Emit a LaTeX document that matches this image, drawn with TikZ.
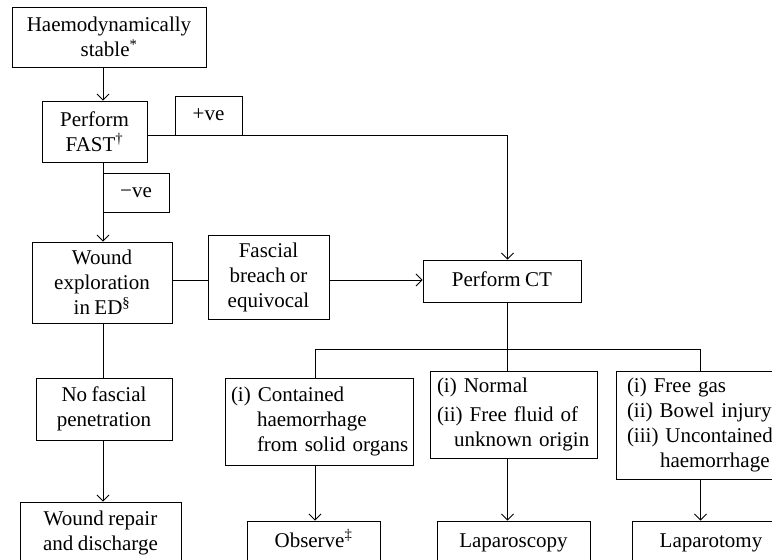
\documentclass[tikz,border=0pt]{standalone}
\usepackage{fontspec}
\setmainfont{Liberation Serif}[WordSpace=0.85]
\usetikzlibrary{arrows.meta}
\begin{document}
\begin{tikzpicture}[x=1pt,y=-1pt,
  box/.style={draw, line width=0.9pt, inner sep=0pt, align=center,
    font=\fontsize{21}{25}\selectfont},
  lbox/.style={box, align=left},
  one/.style={text height=15pt, text depth=5pt},
  conn/.style={line width=0.9pt},
  arr/.style={conn, -{Straight Barb[length=6pt,width=12pt,line width=0.9pt]}}]
\clip (0,0) rectangle (772,560);
\fill[white] (0,0) rectangle (772,560);
% columns / rows
\coordinate (cA) at (103,0);
\coordinate (cB) at (507.5,0);
\coordinate (cC) at (315,0);
\coordinate (cE) at (700.5,0);
\coordinate (yPos) at (0,135);
\coordinate (yF) at (0,280);
\coordinate (yS) at (0,349);
% nodes
\node[box, minimum width=194pt, minimum height=60pt] (hs) at (109,37) {Haemodynamically\\stable\textsuperscript{*}};
\node[box, minimum width=105pt, minimum height=61pt] (fast) at (94.5,131.5) {Perform\\FAST\textsuperscript{†}};
\node[box, one, minimum width=67pt, minimum height=39pt] (pos) at (208.5,115.5) {+ve};
\node[box, one, minimum width=66pt, minimum height=39pt] (neg) at (136,192.5) {−ve};
\node[box, minimum width=140pt, minimum height=81pt] (wound) at (102,282.5) {Wound\\exploration\\in ED\textsuperscript{§}};
\node[box, minimum width=121pt, minimum height=84pt] (fasc) at (268.5,277) {Fascial\\breach or\\equivocal};
\node[box, one, minimum width=158pt, minimum height=42pt] (ct) at (502,281) {Perform CT};
\node[box, minimum width=136pt, minimum height=62pt] (nofasc) at (104,409) {No fascial\\penetration};
\node[box, minimum width=161pt, minimum height=62pt] (repair) at (100.5,533) {Wound repair\\and discharge};
\node[lbox, text width=176pt, inner xsep=6pt, minimum height=87pt] (contained) at (319,421.5)
  {\mbox{(i) Contained}\\\mbox{\hspace*{26pt}haemorrhage}\\\mbox{\hspace*{26pt}from solid organs}};
\node[lbox, text width=153pt, inner xsep=7pt, minimum height=87pt] (normal) at (513.5,414.5)
  {\mbox{(i) Normal}\\[4pt]\mbox{(ii) Free fluid of}\\\mbox{\hspace*{17pt}unknown origin}};
\node[lbox, text width=142pt, inner xsep=11pt, minimum height=108pt] (freegas) at (698,425)
  {\mbox{(i) Free gas}\\\mbox{(ii) Bowel injury}\\\mbox{(iii) Uncontained}\\\mbox{\hspace*{33pt}haemorrhage}};
\node[box, one, minimum width=133pt, minimum height=42pt] (observe) at (313.5,542) {Observe\textsuperscript{‡}};
\node[box, one, minimum width=153pt, minimum height=42pt] (lscopy) at (513.5,542) {Laparoscopy};
\node[box, one, minimum width=158pt, minimum height=42pt] (ltomy) at (711,542) {Laparotomy};
% connectors
\draw[arr] (hs.south -| cA) -- (fast.north -| cA);
\draw[arr] (fast.south -| cA) -- (wound.north -| cA);
\draw[conn] (wound.south -| cA) -- (nofasc.north -| cA);
\draw[arr] (nofasc.south -| cA) -- (repair.north -| cA);
\draw[arr] (fast.east |- yPos) -- (cB |- yPos) -- (ct.north -| cB);
\draw[conn] (wound.east |- yF) -- (fasc.west |- yF);
\draw[arr] (fasc.east |- yF) -- (ct.west |- yF);
\draw[conn] (ct.south -| cB) -- (cB |- yS);
\draw[conn] (contained.north -| cC) -- (cC |- yS) -- (cE |- yS) -- (freegas.north -| cE);
\draw[conn] (cB |- yS) -- (normal.north -| cB);
\draw[arr] (contained.south -| cC) -- (observe.north -| cC);
\draw[arr] (normal.south -| cB) -- (lscopy.north -| cB);
\draw[arr] (freegas.south -| cE) -- (ltomy.north -| cE);
\end{tikzpicture}
\end{document}
